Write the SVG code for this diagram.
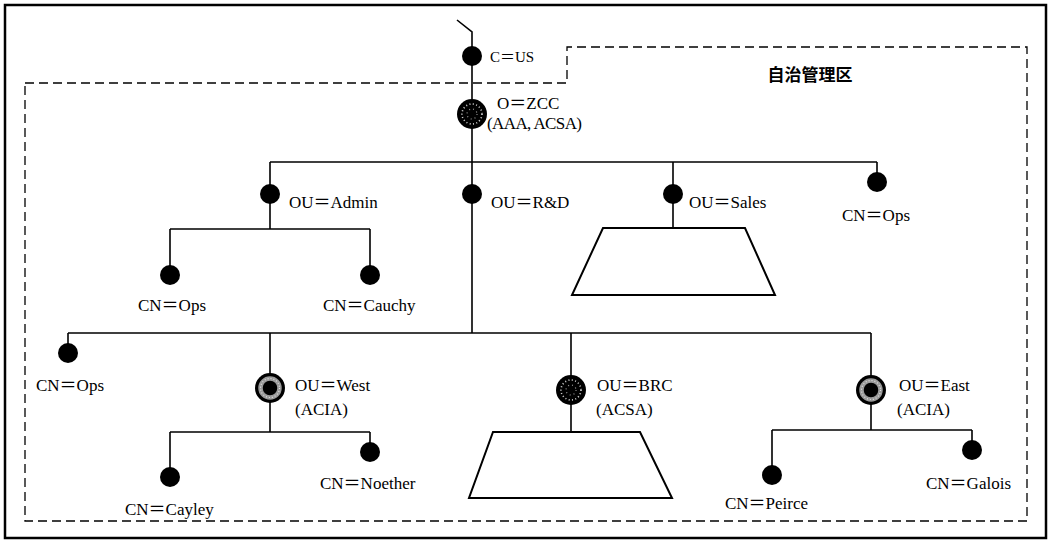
<svg xmlns="http://www.w3.org/2000/svg" width="1048" height="540" viewBox="0 0 1048 540">
<style>
.ln{stroke:#000;stroke-width:1.6;fill:none}
.dot{fill:#000}
.t{font-family:"Liberation Serif","Noto Sans CJK SC",serif;font-size:17px;fill:#000}
.ttl{font-family:"Noto Sans CJK SC","Noto Sans",sans-serif;font-size:17px;font-weight:bold;fill:#000}
.trap{fill:#fff;stroke:#000;stroke-width:2}
</style>
<defs>
<g id="spk">
<circle r="15" fill="#000"/>
<circle r="10" fill="none" stroke="#fff" stroke-width="1.6" stroke-dasharray="1 2.4" opacity="0.85"/>
<circle r="5" fill="none" stroke="#fff" stroke-width="1.2" stroke-dasharray="1 3" opacity="0.6"/>
</g>
<g id="ring">
<circle r="15" fill="#000"/>
<circle r="9.5" fill="none" stroke="#9a9a9a" stroke-width="4.5"/>
<circle r="9.5" fill="none" stroke="#fff" stroke-width="1.2" stroke-dasharray="1 2" opacity="0.7"/>
<circle r="6.5" fill="#000"/>
</g>
</defs>
<rect x="5" y="5" width="1041" height="533" fill="#fff" stroke="#000" stroke-width="2.5"/>
<path d="M25,83 L567,83 L567,47 L1027,47 L1027,521 L25,521 Z" fill="none" stroke="#000" stroke-width="1.3" stroke-dasharray="9 5"/>
<text class="ttl" x="810" y="81" text-anchor="middle">自治管理区</text>
<g id="connectors">
<path class="ln" d="M457,20 L472,32 L472,333"/>
<path class="ln" d="M270,162 L877,162 M270,162 L270,229 M170,229 L370,229 M170,229 L170,275 M370,229 L370,275"/>
<path class="ln" d="M673,162 L673,228 M877,162 L877,182"/>
<path class="ln" d="M68,333 L871,333 M68,333 L68,353 M270,333 L270,432 M170,432 L370,432 M170,432 L170,477 M370,432 L370,452"/>
<path class="ln" d="M571,333 L571,432 M871,333 L871,430 M772,430 L972,430 M772,430 L772,475 M972,430 L972,450"/>
</g>
<g id="node-us"><circle class="dot" cx="472" cy="56" r="10"/><text class="t" x="490" y="62" style="font-size:15px">C＝US</text></g>
<g id="node-zcc"><use href="#spk" x="472" y="114"/><text class="t" x="497" y="109">O＝ZCC</text><text class="t" x="487" y="129" textLength="95">(AAA, ACSA)</text></g>
<g id="node-admin"><circle class="dot" cx="270" cy="194" r="10"/><text class="t" x="289" y="208">OU＝Admin</text></g>
<g id="node-admin-ops"><circle class="dot" cx="170" cy="275" r="10"/><text class="t" x="138" y="311">CN＝Ops</text></g>
<g id="node-cauchy"><circle class="dot" cx="370" cy="275" r="10"/><text class="t" x="323" y="311">CN＝Cauchy</text></g>
<g id="node-rd"><circle class="dot" cx="472" cy="194" r="10"/><text class="t" x="491" y="208">OU＝R&amp;D</text></g>
<g id="node-sales"><circle class="dot" cx="673" cy="194" r="10"/><text class="t" x="689" y="208">OU＝Sales</text><polygon class="trap" points="603,228 745,228 775,295 572,295"/></g>
<g id="node-ops-right"><circle class="dot" cx="877" cy="182" r="10"/><text class="t" x="842" y="221">CN＝Ops</text></g>
<g id="node-ops-left"><circle class="dot" cx="68" cy="353" r="10"/><text class="t" x="36" y="391">CN＝Ops</text></g>
<g id="node-west"><use href="#ring" x="270" y="388"/><text class="t" x="295" y="391">OU＝West</text><text class="t" x="295" y="415">(ACIA)</text></g>
<g id="node-cayley"><circle class="dot" cx="170" cy="477" r="10"/><text class="t" x="125" y="515">CN＝Cayley</text></g>
<g id="node-noether"><circle class="dot" cx="370" cy="452" r="10"/><text class="t" x="320" y="489">CN＝Noether</text></g>
<g id="node-brc"><use href="#spk" x="571" y="390"/><text class="t" x="597" y="391">OU＝BRC</text><text class="t" x="596" y="415">(ACSA)</text><polygon class="trap" points="493,432 640,432 672,498 469,498"/></g>
<g id="node-east"><use href="#ring" x="871" y="390"/><text class="t" x="899" y="391">OU＝East</text><text class="t" x="897" y="415">(ACIA)</text></g>
<g id="node-peirce"><circle class="dot" cx="772" cy="475" r="10"/><text class="t" x="725" y="509">CN＝Peirce</text></g>
<g id="node-galois"><circle class="dot" cx="972" cy="450" r="10"/><text class="t" x="926" y="489">CN＝Galois</text></g>
</svg>
